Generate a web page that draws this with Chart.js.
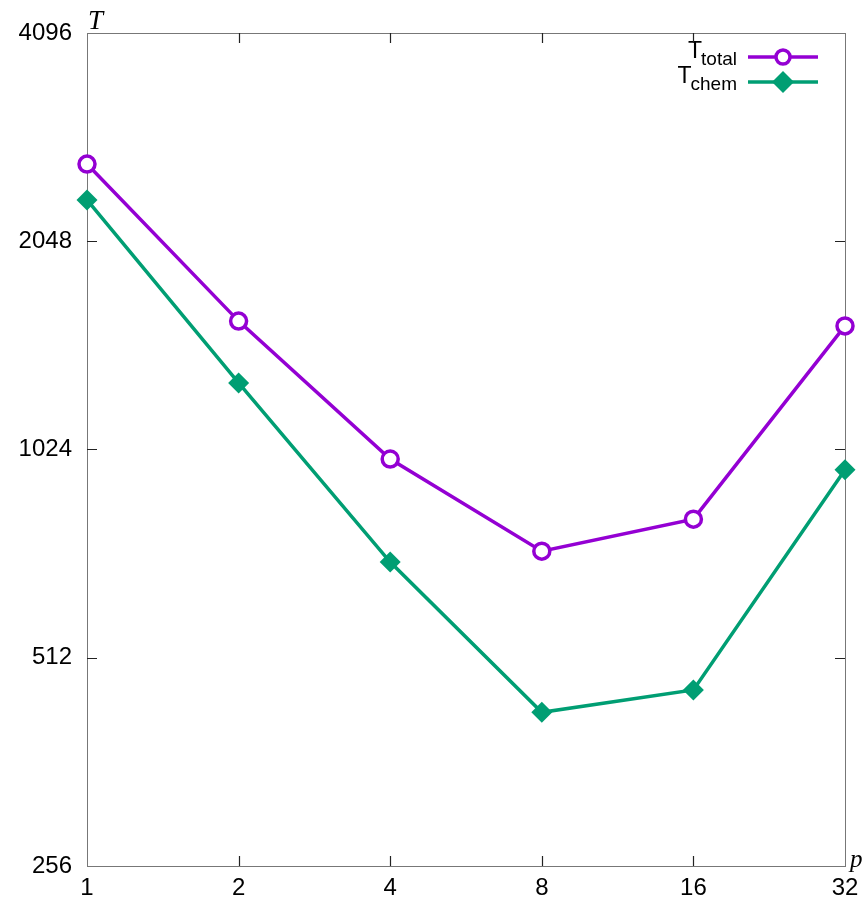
<!DOCTYPE html>
<html><head><meta charset="utf-8">
<script src="https://cdn.jsdelivr.net/npm/chart.js@4"></script>
<style>html,body{margin:0;padding:0;background:#fff}#wrap{width:863px;height:900px}</style>
</head><body><div id="wrap"><canvas id="c" width="863" height="900"></canvas></div>
<script>
const pValues = [1, 2, 4, 8, 16, 32];
const tTotal = [2648, 1570, 992, 730, 812, 1545];
const tChem = [2350, 1278, 704, 427, 460, 957];
const yTicks = [256, 512, 1024, 2048, 4096];
const xTicks = [1, 2, 4, 8, 16, 32];
const FONT = "'Liberation Sans', Arial, sans-serif";

const framePlugin = {
  id: 'frame',
  afterDatasetsDraw(chart) {
    const {ctx, chartArea: a, scales: {x, y}} = chart;
    ctx.save();
    ctx.strokeStyle = '#222'; ctx.lineWidth = 1.2;
    const L = 10;
    ctx.beginPath();
    yTicks.forEach(v => {
      if (v === 256 || v === 4096) return;
      const py = Math.round(y.getPixelForValue(v)) + 0.5;
      ctx.moveTo(a.left, py); ctx.lineTo(a.left + L, py);
      ctx.moveTo(a.right, py); ctx.lineTo(a.right - L, py);
    });
    xTicks.forEach(v => {
      if (v === 1 || v === 32) return;
      const px = Math.round(x.getPixelForValue(v)) + 0.5;
      ctx.moveTo(px, a.bottom); ctx.lineTo(px, a.bottom - L);
      ctx.moveTo(px, a.top); ctx.lineTo(px, a.top + L);
    });
    ctx.stroke();
    ctx.restore();
  },
  beforeDatasetsDraw(chart) {
    const {ctx, chartArea: a} = chart;
    ctx.save();
    ctx.strokeStyle = '#777'; ctx.lineWidth = 1;
    ctx.strokeRect(Math.round(a.left) + 0.5, Math.round(a.top) + 0.5, Math.round(a.right - a.left), Math.round(a.bottom - a.top));
    ctx.fillStyle = '#000';
    ctx.font = "italic 27px 'Liberation Serif', 'DejaVu Serif', serif";
    ctx.textBaseline = 'alphabetic'; ctx.textAlign = 'left';
    ctx.fillText('T', 88, 29);
    ctx.font = "italic 25px 'Liberation Serif', 'DejaVu Serif', serif";
    ctx.fillText('p', 850, 867);
    const rows = [
      {sub: 'total', color: '#9400d3', style: 'circle', y: 57},
      {sub: 'chem', color: '#009e73', style: 'diamond', y: 82}
    ];
    rows.forEach(r => {
      ctx.font = '19px ' + FONT;
      const subW = ctx.measureText(r.sub).width;
      ctx.font = '23px ' + FONT;
      const tW = ctx.measureText('T').width;
      const right = 737;
      ctx.textAlign = 'left';
      ctx.fillStyle = '#000';
      ctx.font = '23px ' + FONT;
      ctx.fillText('T', right - subW - tW + 1, r.y + 1);
      ctx.font = '19px ' + FONT;
      ctx.fillText(r.sub, right - subW, r.y + 8);
      ctx.strokeStyle = r.color; ctx.lineWidth = 3.5;
      ctx.beginPath(); ctx.moveTo(748, r.y); ctx.lineTo(818, r.y); ctx.stroke();
      if (r.style === 'circle') {
        ctx.fillStyle = '#fff';
        ctx.beginPath(); ctx.arc(783, r.y, 7, 0, Math.PI * 2); ctx.fill(); ctx.stroke();
      } else {
        ctx.fillStyle = r.color;
        ctx.beginPath();
        ctx.moveTo(783, r.y - 11); ctx.lineTo(794, r.y); ctx.lineTo(783, r.y + 11); ctx.lineTo(772, r.y);
        ctx.closePath(); ctx.fill();
      }
    });
    ctx.restore();
  }
};

new Chart(document.getElementById('c'), {
  type: 'line',
  data: {
    datasets: [
      {
        label: 'T_total',
        data: pValues.map((p, i) => ({x: p, y: tTotal[i]})),
        borderColor: '#9400d3', backgroundColor: '#fff',
        borderWidth: 3.5, pointStyle: 'circle', pointRadius: 8,
        pointBorderWidth: 3.5, pointBorderColor: '#9400d3', pointBackgroundColor: '#fff',
        tension: 0, clip: false
      },
      {
        label: 'T_chem',
        data: pValues.map((p, i) => ({x: p, y: tChem[i]})),
        borderColor: '#009e73', backgroundColor: '#009e73',
        borderWidth: 3.5, pointStyle: 'rectRot', pointRadius: 10.5,
        pointBorderWidth: 0, pointBackgroundColor: '#009e73',
        tension: 0, clip: false
      }
    ]
  },
  options: {
    responsive: false, animation: false,
    layout: {padding: {top: 33, right: 18, left: 0, bottom: 0}},
    plugins: {legend: {display: false}, tooltip: {enabled: false}},
    scales: {
      x: {
        type: 'logarithmic', min: 1, max: 32,
        afterBuildTicks: s => { s.ticks = xTicks.map(v => ({value: v})); },
        afterFit: s => { s.height = 34; s.paddingLeft = 0; s.paddingRight = 0; },
        grid: {display: false, drawTicks: false},
        border: {display: false},
        ticks: {
          autoSkip: false, maxRotation: 0, padding: 8, color: '#000',
          font: {family: FONT, size: 24},
          callback: v => String(v)
        }
      },
      y: {
        type: 'logarithmic', min: 256, max: 4096,
        afterBuildTicks: s => { s.ticks = yTicks.map(v => ({value: v})); },
        afterFit: s => { s.width = 87; s.paddingTop = 0; s.paddingBottom = 0; },
        grid: {display: false, drawTicks: false},
        border: {display: false},
        ticks: {
          autoSkip: false, padding: 15, color: '#000',
          font: {family: FONT, size: 24},
          callback: v => String(v)
        }
      }
    }
  },
  plugins: [framePlugin]
});
</script>
</body></html>
